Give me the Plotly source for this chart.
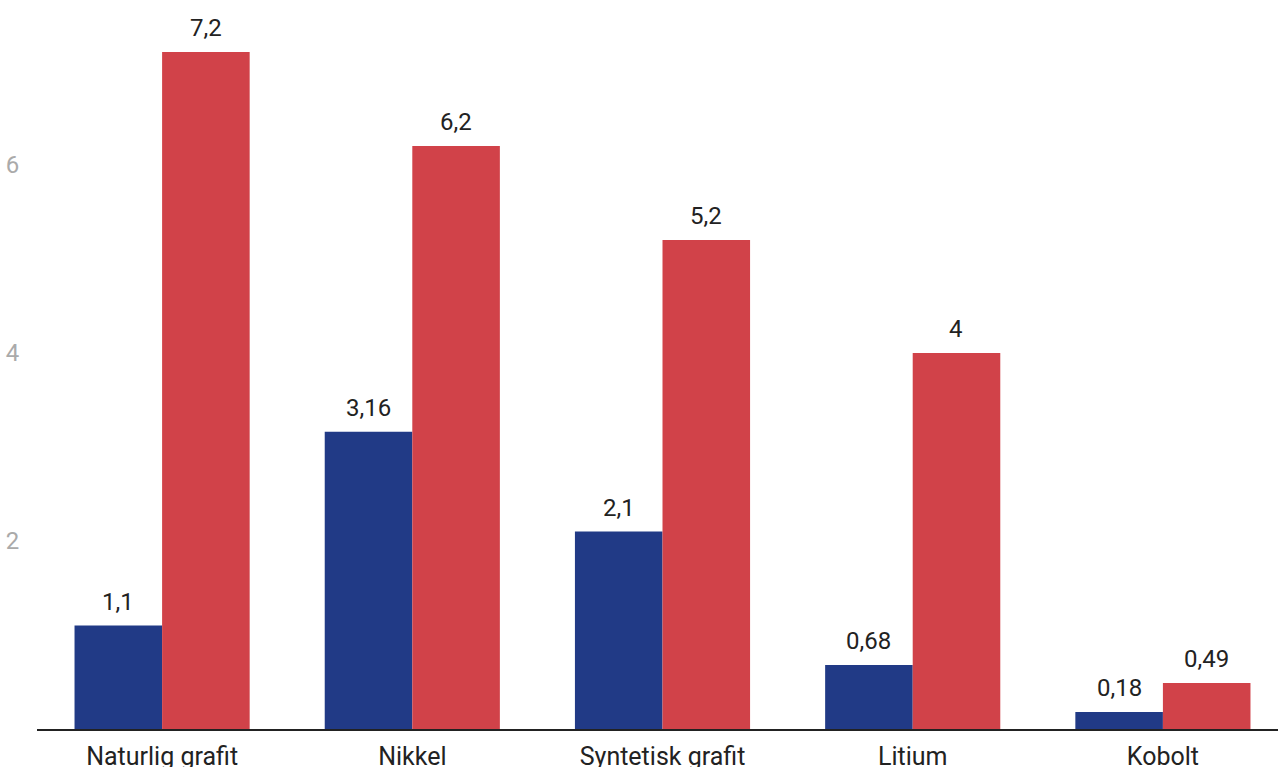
import plotly.graph_objects as go

categories = ["Naturlig grafit", "Nikkel", "Syntetisk grafit", "Litium", "Kobolt"]
blue_values = [1.1, 3.16, 2.1, 0.68, 0.18]
red_values = [7.2, 6.2, 5.2, 4, 0.49]
tick_vals = [2, 4, 6]

BLUE = "#213a86"
RED = "#d14249"

def fmt(v):
    return f"{v:g}".replace(".", ",")

fig = go.Figure()
fig.add_trace(go.Bar(x=categories, y=blue_values, marker_color=BLUE, marker_line_width=0, name="a"))
fig.add_trace(go.Bar(x=categories, y=red_values, marker_color=RED, marker_line_width=0, name="b"))

annotations = []
for i in range(len(categories)):
    for vals, off in ((blue_values, -0.175), (red_values, 0.175)):
        annotations.append(dict(
            x=i + off, y=vals[i], xref="x", yref="y", text=fmt(vals[i]),
            showarrow=False, yanchor="bottom", yshift=8,
            font=dict(family="Roboto", size=24, color="#222222"),
        ))

fig.update_layout(
    width=1278, height=767,
    margin=dict(l=37, r=0, t=0, b=38),
    barmode="group", bargap=0.3, bargroupgap=0,
    plot_bgcolor="white", paper_bgcolor="white",
    showlegend=False,
    font=dict(family="Roboto"),
    annotations=annotations,
    xaxis=dict(
        range=[-0.5, 4.46], showgrid=False, showline=True, linecolor="#222222", linewidth=2,
        ticks="outside", ticklen=4, tickcolor="rgba(0,0,0,0)", automargin=False,
        tickfont=dict(family="Roboto", size=25, color="#222222"),
    ),
    yaxis=dict(
        range=[0, 7.753], showgrid=False, zeroline=False, showline=False, automargin=False,
        tickvals=tick_vals, ticktext=[fmt(v) for v in tick_vals],
        ticks="outside", ticklen=12, tickcolor="rgba(0,0,0,0)",
        tickfont=dict(family="Roboto", size=24, color="#aaaaaa"),
    ),
)

fig.write_html("out.html")
